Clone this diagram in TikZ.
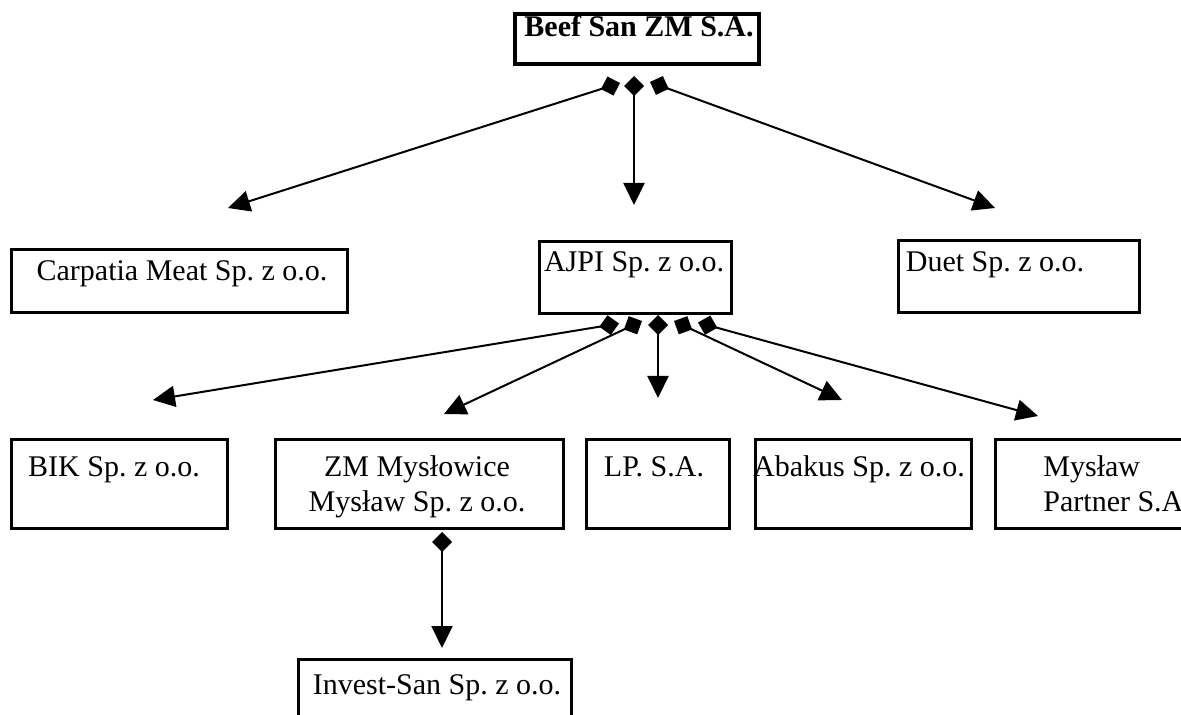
\documentclass[tikz,border=0pt]{standalone}
\usepackage{fontspec}
\setmainfont{Liberation Serif}
\usepackage{tikz}
\usetikzlibrary{arrows.meta,positioning,calc}
\frenchspacing

\begin{document}
\begin{tikzpicture}[x=0.5pt,y=-0.5pt,font=\fontsize{15}{17.5}\selectfont,
    orgbox/.style={draw, line width=1.4pt, inner sep=0pt, anchor=north west},
    orgtext/.style={inner sep=0pt, anchor=base},
    orglines/.style={inner sep=0pt, anchor=north, align=center},
    owns/.style={line width=1pt,
      {Diamond[length=10pt,width=10pt]}-{Triangle[length=11pt,width=10.5pt]}}]
    \useasboundingbox (0,0) rectangle (1181,715);
    \clip (0,0) rectangle (1181,715);

    % holding
    \node[orgbox, line width=2pt, minimum width=122pt, minimum height=25pt] (beef) at (513,12) {};
    \node[orgtext, font=\fontsize{15}{17.5}\selectfont\bfseries] (beefT) at (639,37) {Beef San ZM S.A.};

    % second level
    \node[orgbox, minimum width=168pt, minimum height=31.5pt] (carpatia) at (10,248) {};
    \node[orgbox, minimum width=96pt, minimum height=36pt] (ajpi) at (538,240) {};
    \node[orgbox, minimum width=120.5pt, minimum height=36pt] (duet) at (897,239) {};
    \node[orgtext] (carpatiaT) at (182,281) {Carpatia Meat Sp. z o.o.};
    \node[orgtext] (ajpiT) at (634,272) {AJPI Sp. z o.o.};
    \node[orgtext] (duetT) at (995,272) {Duet Sp. z o.o.};

    % third level
    \node[orgbox, minimum width=108pt, minimum height=44.5pt] (bik) at (10,438) {};
    \node[orgbox, minimum width=144pt, minimum height=44.5pt] (zm) at (274,438) {};
    \node[orgbox, minimum width=71.5pt, minimum height=44.5pt] (lp) at (585,438) {};
    \node[orgbox, minimum width=108pt, minimum height=44.5pt] (abakus) at (754,438) {};
    \node[orgbox, minimum width=120pt, minimum height=44.5pt] (partner) at (994,438) {};
    \node[orgtext] (bikT) at (114,476) {BIK Sp. z o.o.};
    \node[orglines] (zmT) at (417,455.5) {ZM Mysłowice\\Mysław Sp. z o.o.};
    \node[orgtext] (lpT) at (654,476) {LP. S.A.};
    \node[orgtext] (abakusT) at (859,476) {Abakus Sp. z o.o.};
    \node[orglines, anchor=north west, align=left] (partnerT) at (1043,455.5) {Mysław\\Partner S.A.};

    % fourth level
    \node[orgbox, minimum width=136.5pt, minimum height=50pt] (invest) at (297,658) {};
    \node[orgtext] (investT) at (437,694) {Invest-San Sp. z o.o.};

    % connector ends
    \coordinate (beefL) at (620,83);
    \coordinate (beefM) at (634,76);
    \coordinate (beefR) at (650,82);
    \coordinate (carpatiaIn) at (228,208);
    \coordinate (ajpiIn) at (634,205);
    \coordinate (duetIn) at (995,208);
    \coordinate (ajpiA) at (619,323.5);
    \coordinate (ajpiB) at (642,321);
    \coordinate (ajpiC) at (658,315);
    \coordinate (ajpiD) at (674,321);
    \coordinate (ajpiE) at (698,322.5);
    \coordinate (bikIn) at (153,400);
    \coordinate (zmIn) at (444,414);
    \coordinate (lpIn) at (658,398);
    \coordinate (abakusIn) at (842,400);
    \coordinate (partnerIn) at (1038,416);
    \coordinate (zmOut) at (442,532);
    \coordinate (investIn) at (442,648);

    \draw[owns] (beefL) -- (carpatiaIn);
    \draw[owns] (beefM) -- (ajpiIn);
    \draw[owns] (beefR) -- (duetIn);
    \draw[owns] (ajpiA) -- (bikIn);
    \draw[owns] (ajpiB) -- (zmIn);
    \draw[owns] (ajpiC) -- (lpIn);
    \draw[owns] (ajpiD) -- (abakusIn);
    \draw[owns] (ajpiE) -- (partnerIn);
    \draw[owns] (zmOut) -- (investIn);
  \end{tikzpicture}
\end{document}
